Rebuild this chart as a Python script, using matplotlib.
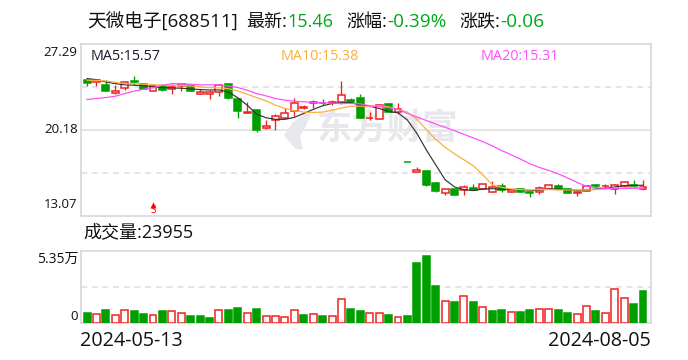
import numpy as np
import matplotlib
matplotlib.use("Agg")
import matplotlib.pyplot as plt
from matplotlib.path import Path
from matplotlib.patches import PathPatch
from matplotlib.transforms import Affine2D

plt.rcParams['font.family'] = ['Open Sans', 'Noto Sans CJK SC', 'DejaVu Sans']

W, H = 688, 360
RED = '#f02020'
GREEN = '#009f00'
BORDER = '#d6d6de'
GRID = '#dedede'

opens = [24.25, 24.14, 23.84, 23.21, 23.62, 24.19, 23.92, 23.40, 23.81, 23.51,
         23.76, 23.84, 23.15, 23.15, 23.29, 23.92, 22.69, 21.51, 21.81, 20.33,
         20.93, 21.15, 21.67, 21.97, 22.39, 22.41, 22.41, 22.47, 22.66, 22.82,
         21.10, 21.02, 22.25, 21.59, 17.52, 16.66, 16.77, 15.78, 14.91, 15.29,
         15.18, 15.34, 15.23, 15.02, 15.51, 15.02, 15.26, 14.99, 15.02, 15.23,
         15.54, 15.23, 14.91, 15.13, 15.56, 15.48, 15.29, 15.54, 15.62, 15.26]
closes = [24.03, 24.30, 23.37, 23.35, 24.11, 24.14, 23.54, 23.78, 23.45, 23.70,
          23.92, 23.40, 23.29, 23.24, 23.89, 22.82, 21.73, 21.65, 20.14, 20.47,
          21.32, 21.56, 22.41, 22.03, 22.44, 22.36, 22.49, 23.07, 22.44, 21.15,
          21.17, 22.17, 21.59, 21.87, 17.47, 16.82, 15.56, 15.07, 15.26, 14.74,
          15.43, 15.21, 15.67, 15.40, 15.15, 15.21, 15.02, 14.93, 15.32, 15.56,
          15.26, 14.91, 14.99, 15.54, 15.51, 15.54, 15.59, 15.81, 15.54, 15.46]
highs = [24.25, 24.30, 24.30, 23.84, 24.11, 24.58, 23.97, 23.97, 23.97, 23.97,
         23.97, 23.84, 23.56, 23.48, 23.95, 23.97, 22.82, 22.47, 21.81, 20.96,
         21.45, 21.92, 22.82, 22.17, 22.66, 22.74, 22.60, 24.19, 22.82, 23.15,
         21.64, 22.28, 22.33, 22.33, 17.52, 17.07, 16.77, 15.87, 15.26, 15.29,
         15.62, 15.70, 15.67, 15.95, 15.76, 15.21, 15.26, 14.99, 15.48, 15.56,
         15.70, 15.34, 15.13, 15.54, 15.70, 15.70, 15.65, 15.89, 16.03, 16.03]
lows = [23.76, 23.81, 23.37, 23.15, 23.43, 23.89, 23.51, 23.40, 23.37, 23.15,
        23.37, 23.35, 23.10, 22.71, 22.93, 22.74, 21.15, 21.51, 20.00, 20.22,
        20.14, 21.15, 21.29, 21.84, 21.92, 22.19, 22.17, 22.25, 22.41, 21.15,
        20.96, 21.02, 21.59, 21.45, 17.47, 16.66, 15.48, 14.99, 14.74, 14.74,
        14.74, 15.21, 15.23, 15.02, 14.99, 15.02, 15.02, 14.58, 14.82, 15.23,
        15.26, 14.91, 14.66, 15.13, 15.32, 15.26, 14.82, 15.48, 15.54, 15.15]

ma5 = [24.39, 24.30, 24.11, 23.97, 23.87, 23.84, 23.81, 23.70, 23.65, 23.62,
       23.59, 23.54, 23.48, 23.45, 23.45, 23.29, 22.80, 22.19, 21.45, 21.15,
       21.02, 21.02, 21.18, 21.51, 21.84, 22.14, 22.33, 22.39, 22.41, 22.19,
       22.11, 21.92, 21.67, 21.56, 20.96, 19.87, 18.50, 17.26, 16.03, 15.43,
       15.21, 15.13, 15.26, 15.29, 15.23, 15.23, 15.23, 15.13, 15.15, 15.26,
       15.26, 15.21, 15.15, 15.18, 15.26, 15.32, 15.43, 15.54, 15.56, 15.57]
ma10 = [24.25, 24.25, 24.19, 24.08, 23.97, 23.97, 23.92, 23.89, 23.84, 23.84,
        23.81, 23.78, 23.70, 23.65, 23.62, 23.56, 23.37, 23.10, 22.82, 22.55,
        22.19, 21.92, 21.73, 21.62, 21.59, 21.62, 21.78, 21.95, 22.11, 22.11,
        22.06, 22.14, 22.06, 21.85, 21.62, 21.02, 20.19, 19.37, 18.71, 18.17,
        17.67, 17.18, 16.44, 15.62, 15.40, 15.26, 15.21, 15.18, 15.21, 15.21,
        15.18, 15.18, 15.18, 15.18, 15.21, 15.26, 15.32, 15.34, 15.37, 15.38]
ma20 = [22.66, 22.74, 22.82, 22.93, 23.15, 23.35, 23.51, 23.62, 23.84, 23.97,
        23.95, 23.92, 23.87, 23.87, 23.87, 23.78, 23.65, 23.43, 23.15, 22.96,
        22.74, 22.60, 22.52, 22.47, 22.41, 22.39, 22.36, 22.33, 22.33, 22.30,
        22.14, 22.06, 22.00, 21.84, 21.51, 21.21, 20.93, 20.63, 20.36, 20.08,
        19.78, 19.48, 19.18, 18.83, 18.44, 18.09, 17.73, 17.35, 17.04, 16.80,
        16.52, 16.17, 15.81, 15.48, 15.37, 15.32, 15.32, 15.32, 15.32, 15.31]

# volume in units of 10k shares
volumes = [0.77, 0.67, 0.99, 0.59, 0.97, 0.92, 0.69, 0.59, 0.92, 0.89,
           0.74, 0.54, 0.54, 0.40, 0.97, 0.99, 1.14, 0.74, 1.07, 0.52,
           0.52, 0.45, 0.97, 0.62, 0.67, 0.54, 0.52, 1.78, 1.07, 0.92,
           0.74, 0.74, 0.62, 0.45, 0.54, 4.48, 5.00, 2.77, 1.63, 1.59,
           2.01, 1.59, 1.19, 0.92, 0.99, 0.82, 0.84, 0.99, 1.04, 1.04,
           0.99, 0.77, 0.67, 1.26, 0.92, 0.74, 2.53, 1.86, 1.44, 2.40]
# 1 = green volume bar, 0 = red
vol_down = [1, 0, 1, 0, 0, 1, 1, 0, 1, 0, 0, 1, 1, 1, 0, 1, 1, 0, 1, 0,
            0, 0, 0, 1, 0, 1, 0, 0, 1, 1, 0, 0, 1, 0, 1, 1, 1, 1, 0, 1,
            0, 1, 0, 1, 1, 0, 1, 1, 0, 0, 1, 1, 0, 0, 1, 0, 0, 0, 1, 1]

price_ticks = [27.29, 20.18, 13.07]
vol_top = 5.35
sell_idx = 7


def fx(px):
    return px / W


def fy(py):
    return 1 - py / H


def px_axes(left, top, right, bottom):
    return fig.add_axes([fx(left), fy(bottom), (right - left) / W, (bottom - top) / H])


def style_axes(ax):
    ax.set_xticks([])
    ax.set_yticks([])
    ax.set_xlim(-0.64, 59.85)
    for s in ax.spines.values():
        s.set_color(BORDER)
        s.set_linewidth(1.2)


fig = plt.figure(figsize=(W / 100, H / 100), dpi=100)
ax = px_axes(81, 43.5, 651, 215.5)
ax2 = px_axes(81, 251, 651, 323)
style_axes(ax)
style_axes(ax2)

x = np.arange(len(opens))
opens = np.array(opens)
closes = np.array(closes)
up = closes >= opens
colors = [RED if u else GREEN for u in up]

# Price panel
ax.set_ylim(price_ticks[2], price_ticks[0])
ax.axhline(price_ticks[1], color=GRID, lw=1.1, zorder=1)
ax.axhline((price_ticks[0] + price_ticks[1]) / 2, color=GRID, lw=1.1, ls=(0, (4, 3)), zorder=1)
ax.axhline((price_ticks[1] + price_ticks[2]) / 2, color=GRID, lw=1.1, ls=(0, (4, 3)), zorder=1)

# Watermark
to_fig = Affine2D().scale(1 / W, -1 / H).translate(0, 1) + fig.transFigure
leaf = Path([(284, 135), (292, 123), (304, 114), (311, 114), (306, 126), (300, 136),
             (303, 150), (296, 149), (290, 143), (284, 135)])
ax.add_patch(PathPatch(leaf, fc='#e8e8ec', ec='none', transform=to_fig, zorder=1, clip_on=False))
ax.text(fx(388), fy(130), '东方财富', transform=fig.transFigure, fontsize=25.5, fontweight='bold',
        color='#e8e8ec', ha='center', va='center', zorder=1)

ax.vlines(x, lows, highs, colors=colors, lw=0.95, zorder=2)
body_low = np.minimum(opens, closes)
body_h = np.abs(closes - opens)
ax.bar(x[up], body_h[up], bottom=body_low[up], width=0.74, facecolor='white', edgecolor=RED, lw=1.1, zorder=3)
ax.bar(x[~up], body_h[~up], bottom=body_low[~up], width=0.74, facecolor=GREEN, edgecolor=GREEN, lw=1.1, zorder=3)

ax.plot(x, ma5, color='#333333', lw=0.85, zorder=4)
ax.plot(x, ma10, color='#fbb03b', lw=0.9, zorder=5)
ax.plot(x, ma20, color='#ff50ff', lw=0.9, zorder=6)

# Sell marker
ax.plot([sell_idx], [13.97], marker='^', ms=4, color='red', mec='none', zorder=7)
ax.annotate('S', (sell_idx, 13.07), xytext=(0, -0.5), textcoords='offset points', ha='center', va='bottom',
            fontsize=7, color='red', zorder=7)

# Volume panel
vol_down = np.array(vol_down, dtype=bool)
volumes = np.array(volumes)
ax2.set_ylim(0, vol_top)
ax2.axhline(vol_top / 2, color=GRID, lw=1.1, ls=(0, (4, 3)), zorder=1)
ax2.bar(x[~vol_down], volumes[~vol_down], width=0.74, facecolor='white', edgecolor=RED, lw=1.1, zorder=3)
ax2.bar(x[vol_down], volumes[vol_down], width=0.74, facecolor=GREEN, edgecolor=GREEN, lw=1.1, zorder=3)

# Header
BLACK = '#111111'
TEXT_GREEN = '#00a81c'
for px, s, c, fs in [(87, '天微电子[688511]', BLACK, 13.4), (246, '最新:', BLACK, 13), (287, '15.46', TEXT_GREEN, 13),
                     (346, '涨幅:', BLACK, 13), (387, '-0.39%', TEXT_GREEN, 13.6),
                     (459, '涨跌:', BLACK, 13), (500, '-0.06', TEXT_GREEN, 13.8)]:
    fig.text(fx(px), fy(22), s, color=c, fontsize=fs, ha='left', va='center')

# MA labels
for px, s, c in [(91, 'MA5:15.57', '#1a1a2a'), (281, 'MA10:15.38', '#fbb03b'), (481, 'MA20:15.31', '#ff50ff')]:
    fig.text(fx(px), fy(57), s, color=c, fontsize=10.4, ha='left', va='center')

# Axis labels
for py, v in zip([52, 129, 205], price_ticks):
    fig.text(fx(77.5), fy(py), '%.2f' % v, color=BLACK, fontsize=9.5, ha='right', va='center')
fig.text(fx(78), fy(259), '5.35万', color=BLACK, fontsize=10, ha='right', va='center')
fig.text(fx(78), fy(316), '0', color=BLACK, fontsize=9.5, ha='right', va='center')
fig.text(fx(83), fy(232), '成交量:23955', color=BLACK, fontsize=13, ha='left', va='center')
fig.text(fx(80), fy(341), '2024-05-13', color=BLACK, fontsize=14.2, ha='left', va='center')
fig.text(fx(651), fy(341), '2024-08-05', color=BLACK, fontsize=14.2, ha='right', va='center')

fig.savefig('out.png', dpi=100)
